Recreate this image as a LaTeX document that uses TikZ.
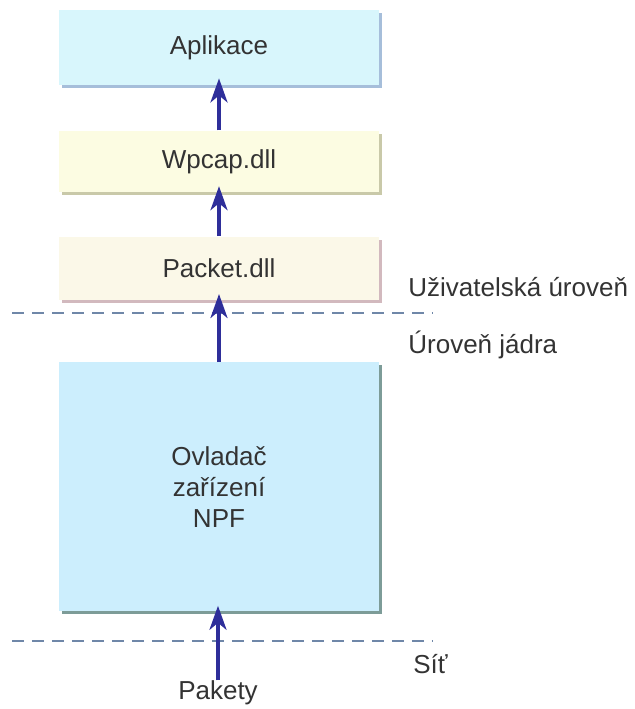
\documentclass[tikz,border=0pt]{standalone}
\usepackage{fontspec}
\setmainfont{Liberation Sans}
\usetikzlibrary{arrows.meta,positioning,shadows}
\definecolor{appfill}{RGB}{216,246,252}
\definecolor{appshade}{RGB}{166,190,218}
\definecolor{wpfill}{RGB}{252,252,226}
\definecolor{wpshade}{RGB}{201,201,169}
\definecolor{pkfill}{RGB}{251,248,232}
\definecolor{pkshade}{RGB}{210,185,190}
\definecolor{npffill}{RGB}{204,238,253}
\definecolor{npfshade}{RGB}{125,156,152}
\definecolor{flow}{RGB}{46,46,154}
\definecolor{border}{RGB}{111,135,168}
\definecolor{txt}{RGB}{51,51,51}

\begin{document}
\begin{tikzpicture}[
    x=0.5pt, y=-0.5pt,
    node distance=22pt,
    layer/.style={minimum width=160pt, inner sep=0pt, align=center,
                font=\fontsize{13}{15.5}\selectfont, text=txt},
    shade/.style={drop shadow={shadow xshift=1.5pt, shadow yshift=-1.5pt, fill=#1, opacity=1}},
    lbl/.style={font=\fontsize{13}{15.5}\selectfont, text=txt, inner sep=0pt},
    arr/.style={-{Stealth[length=12pt,width=8.5pt,inset=3.5pt]}, line width=1.8pt, flow},
    level/.style={dashed, dash pattern=on 6pt off 4pt, line width=1pt, border}
]
\useasboundingbox (0,0) rectangle (634,709);

% layers, top to bottom
\node[layer, fill=appfill, shade=appshade, minimum height=37.5pt] (app) at (219,47.5) {Aplikace};
\node[layer, fill=wpfill, shade=wpshade, minimum height=30.5pt, below=22.5pt of app] (wpcap) {Wpcap.dll};
\node[layer, fill=pkfill, shade=pkshade, minimum height=31.5pt, below=22pt of wpcap] (packet) {Packet.dll};
\node[layer, fill=npffill, shade=npfshade, minimum height=124.5pt, below=31pt of packet] (npf) {Ovladač\\zařízení\\NPF};

\node[lbl] (pakety) at (218,693) {Pakety};

% level boundaries
\draw[level] (12,313) -- (433,313);
\draw[level] (12,641) -- (433,641);
\node[lbl, anchor=west] (user) at (408,287) {Uživatelská úroveň};
\node[lbl, anchor=west] (kernel) at (408,345) {Úroveň jádra};
\node[lbl, anchor=west] (net) at (413,664) {Síť};

% packet flow
\draw[arr, shorten >=-3pt] (pakety.north) -- (pakety.north |- npf.south);
\draw[arr, shorten >=-3pt] (npf.north) -- (packet.south);
\draw[arr, shorten >=-3pt] (packet.north) -- (wpcap.south);
\draw[arr, shorten >=-3.5pt] (wpcap.north) -- (app.south);
\end{tikzpicture}
\end{document}
